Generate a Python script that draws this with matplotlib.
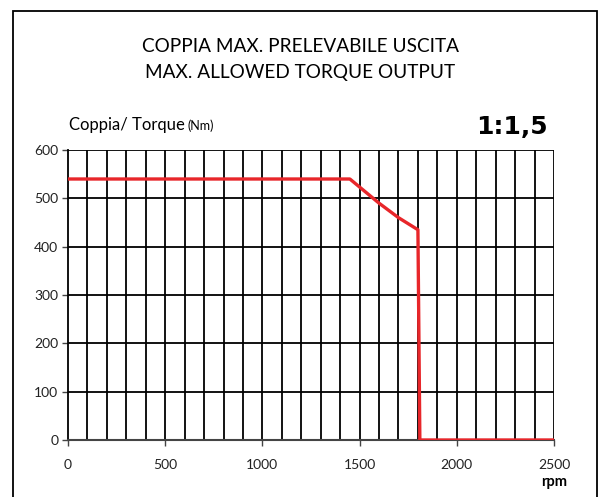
import matplotlib.pyplot as plt
from matplotlib.patches import Rectangle
import numpy as np

# Dati
rpm = [0, 1450, 1600, 1700, 1800, 1810, 2500]
coppia = [540, 540, 490, 460, 435, 0, 0]
x_ticks = [0, 500, 1000, 1500, 2000, 2500]
y_ticks = [0, 100, 200, 300, 400, 500, 600]

plt.rcParams['font.family'] = ['Lato', 'DejaVu Sans']

fig = plt.figure(figsize=(6.01, 4.97), dpi=100)

# cornice esterna
fig.patches.append(Rectangle((13 / 601, -0.05), 584 / 601, 1.05 - 11 / 497,
                             transform=fig.transFigure, fill=False,
                             edgecolor='black', linewidth=1.3))

ax = fig.add_axes([68 / 601, 1 - 440 / 497, 486 / 601, 290 / 497])

# griglia
for gx in np.arange(100, 2501, 100):
    ax.axvline(gx, color='black', linewidth=1.3, zorder=1)
for gy in np.arange(100, 601, 100):
    ax.axhline(gy, color='black', linewidth=1.3, zorder=1)

ax.plot(rpm, coppia, color='#e8262a', linewidth=2.4, zorder=3)

ax.set_xlim(0, 2500)
ax.set_ylim(0, 600)
ax.set_xticks(x_ticks)
ax.set_yticks(y_ticks)
ax.tick_params(axis='both', labelsize=10, length=4, width=1, color='#444444',
               labelcolor='#222222', direction='out')
ax.tick_params(axis='x', pad=10)
ax.tick_params(axis='y', pad=3)
for s in ['top', 'right']:
    ax.spines[s].set_visible(False)
ax.spines['left'].set_color('black')
ax.spines['left'].set_linewidth(1.3)
ax.spines['bottom'].set_color('#444444')
ax.spines['bottom'].set_linewidth(1.5)

fig.text(0.5, 1 - 47 / 497, 'COPPIA MAX. PRELEVABILE USCITA', ha='center', va='center',
         fontsize=13.7)
fig.text(0.5, 1 - 72 / 497, 'MAX. ALLOWED TORQUE OUTPUT', ha='center', va='center',
         fontsize=13.7)
fig.text(69 / 601, 1 - 130 / 497, 'Coppia/ Torque', ha='left', va='baseline', fontsize=12)
fig.text(187 / 601, 1 - 130 / 497, '(Nm)', ha='left', va='baseline', fontsize=9)
fig.text(548 / 601, 1 - 127 / 497, '1:1,5', ha='right', va='center', fontsize=18,
         fontweight='bold', family='DejaVu Sans')
fig.text(567 / 601, 1 - 482 / 497, 'rpm', ha='right', va='center', fontsize=10.5,
         fontweight='bold')

fig.savefig('out.png', dpi=100)
